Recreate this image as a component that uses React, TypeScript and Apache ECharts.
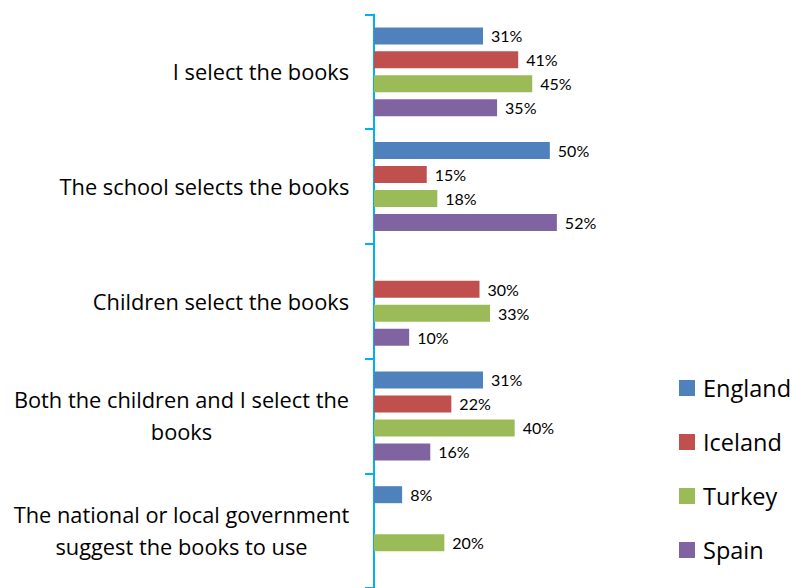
import React, { useEffect, useRef } from "react";
import * as echarts from "echarts";

const categories = [
  "I select the books",
  "The school selects the books",
  "Children select the books",
  "Both the children and I select the\nbooks",
  "The national or local government\nsuggest the books to use",
];
const seriesNames = ["England", "Iceland", "Turkey", "Spain"];
const england = [31, 50, null, 31, 8];
const iceland = [41, 15, 30, 22, null];
const turkey = [45, 18, 33, 40, 20];
const spain = [35, 52, 10, 16, null];
const seriesValues = [england, iceland, turkey, spain];
const colors = ["#4F81BD", "#C0504D", "#9BBB59", "#8064A2"];

const FONT = "Open Sans";
const CAT_SIZE = 21.8;
const VAL_FONT = "Lato";

function measure(text: string, font: string): number {
  const ctx = document.createElement("canvas").getContext("2d");
  if (!ctx) return text.length * 9;
  ctx.font = font;
  return ctx.measureText(text).width;
}

export default function App() {
  const ref = useRef<HTMLDivElement>(null);
  useEffect(() => {
    if (!ref.current) return;
    const chart = echarts.init(ref.current, null, { renderer: "svg" });
    const rich: Record<string, any> = {};
    categories.forEach((c, i) => {
      const w = Math.max(
        ...c.split("\n").map((l) => measure(l, `${CAT_SIZE}px "${FONT}"`))
      );
      rich["c" + i] = {
        width: Math.ceil(w) + 1,
        align: "center",
        fontSize: CAT_SIZE,
        fontFamily: FONT,
        lineHeight: 32,
        color: "#000",
      };
    });
    chart.setOption({
      animation: false,
      grid: { left: 374, top: 14.5, right: 207, bottom: -3, containLabel: false },
      legend: {
        data: seriesNames,
        orient: "vertical",
        left: 679,
        top: 376,
        itemWidth: 16,
        itemHeight: 16,
        itemGap: 30,
        icon: "rect",
        padding: 0,
        textStyle: { fontSize: 23.5, fontFamily: FONT, color: "#000", padding: [0, 0, 0, 3] },
      },
      xAxis: { type: "value", min: 0, max: 60, show: false },
      yAxis: {
        type: "category",
        data: categories,
        inverse: true,
        axisLine: { lineStyle: { color: "#00B0F0", width: 2 } },
        axisTick: { show: true, length: 9, lineStyle: { color: "#00B0F0", width: 2 } },
        axisLabel: {
          interval: 0,
          margin: 24,
          formatter: (v: string, idx: number) =>
            v
              .split("\n")
              .map((l) => `{c${idx}|${l}}`)
              .join("\n"),
          rich,
        },
        splitLine: { show: false },
      },
      series: seriesNames.map((name, i) => ({
        name,
        type: "bar",
        data: seriesValues[i],
        barWidth: 17,
        barGap: "41%",
        itemStyle: { color: colors[i] },
        label: {
          show: true,
          position: "right",
          distance: 8,
          formatter: "{c}%",
          fontSize: 16,
          fontFamily: VAL_FONT,
          color: "#000",
        },
      })),
    });
    return () => chart.dispose();
  }, []);
  return (
    <div
      ref={ref}
      style={{ position: "absolute", left: 0, top: 0, width: 792, height: 588 }}
    />
  );
}
